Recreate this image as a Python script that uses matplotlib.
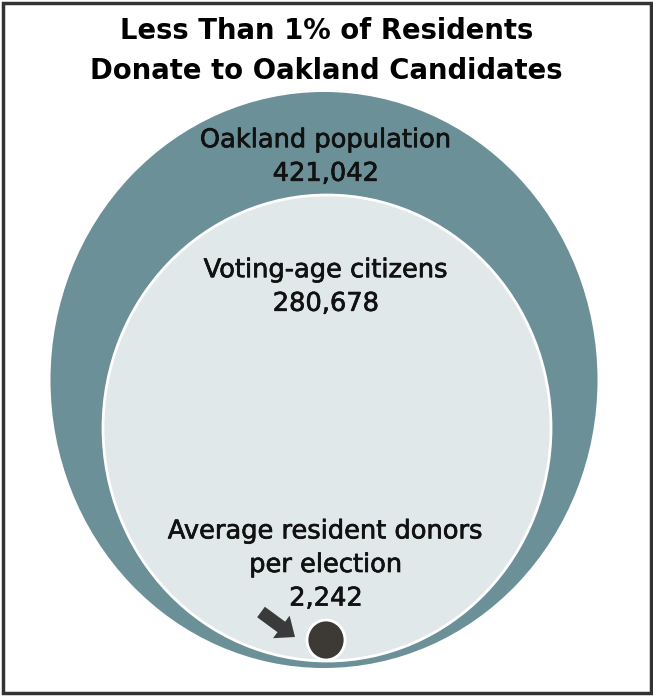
"""Nested ellipses: Oakland residents vs. voting-age citizens vs. donors."""

import matplotlib
matplotlib.use("Agg")
import matplotlib.pyplot as plt
import matplotlib.patheffects as pe
from matplotlib.patches import Ellipse, FancyArrow, Rectangle

# Data
group_names = ["Oakland population", "Voting-age citizens", "Average resident donors\nper election"]
group_counts = [421042, 280678, 2242]
title = "Less Than 1% of Residents\nDonate to Oakland Candidates"

OUTER = "#6b9098"
INNER = "#e1e8ea"
DOT = "#3d3935"

W, H = 653, 696
fig = plt.figure(figsize=(W / 100, H / 100), dpi=100)
ax = fig.add_axes([0, 0, 1, 1])
ax.set_xlim(0, W)
ax.set_ylim(H, 0)
ax.axis("off")

# frame
ax.add_patch(Rectangle((2.5, 2.5), W - 5, H - 6, fill=False, ec="#333333", lw=2.5))

# circles: outer population, inner voters, dot for donors
ax.add_patch(Ellipse((324, 380), 547, 576, fc=OUTER, ec="none"))
ax.add_patch(Ellipse((327, 428), 448, 466, fc=INNER, ec="white", lw=2))
ax.add_patch(Ellipse((326, 640), 38, 40, fc=DOT, ec="white", lw=2))

ax.add_patch(FancyArrow(261, 612, 34, 25, width=13, head_width=28, head_length=17,
                        length_includes_head=True, fc="#3a3a3a", ec="none"))

font = "DejaVu Sans"
ax.text(W / 2, 51, title, ha="center", va="center", fontsize=19.8, fontweight="bold",
        family=font, linespacing=1.52)

medium = [pe.withStroke(linewidth=0.5, foreground="#111111")]
label_y = [157, 287, 565]
for name, count, y in zip(group_names, group_counts, label_y):
    ax.text(326, y, f"{name}\n{count:,}", ha="center", va="center", fontsize=18.5,
            family=font, linespacing=1.38, color="#111111", path_effects=medium)

fig.savefig("out.png", dpi=100)
